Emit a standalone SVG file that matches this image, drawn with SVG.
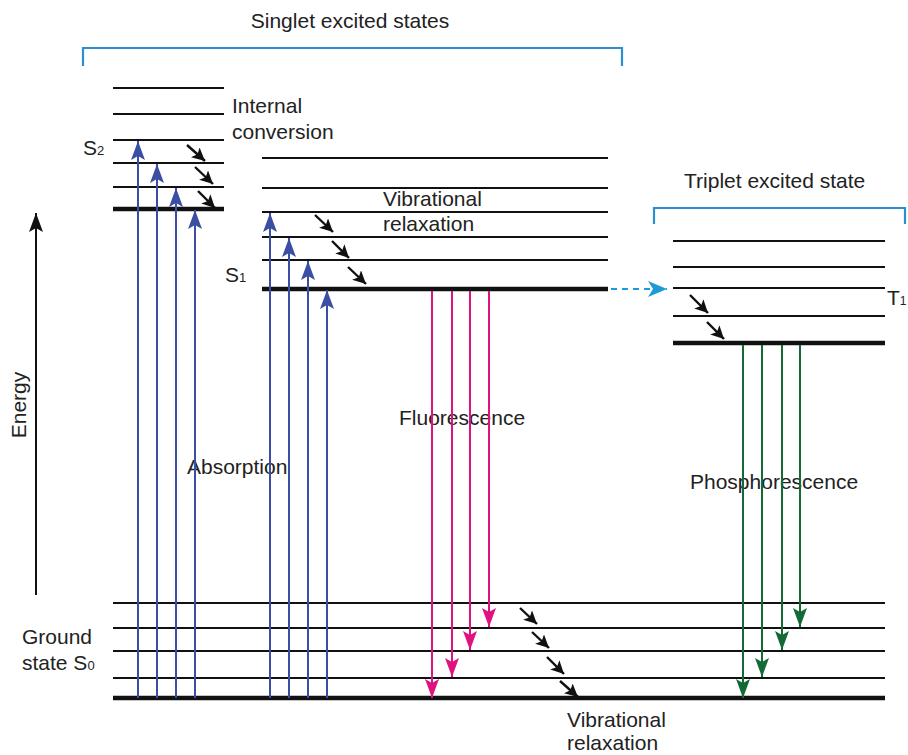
<svg xmlns="http://www.w3.org/2000/svg" width="908" height="755" viewBox="0 0 908 755">
<defs>
<marker id="hb" markerUnits="userSpaceOnUse" markerWidth="20" markerHeight="14" viewBox="0 0 20 14" refX="19" refY="7" orient="auto"><path d="M0,0 L19,7 L0,14 L4,7 Z" fill="#3a4fa3"/></marker>
<marker id="hp" markerUnits="userSpaceOnUse" markerWidth="20" markerHeight="14" viewBox="0 0 20 14" refX="19" refY="7" orient="auto"><path d="M0,0 L19,7 L0,14 L4,7 Z" fill="#e0127f"/></marker>
<marker id="hg" markerUnits="userSpaceOnUse" markerWidth="20" markerHeight="14" viewBox="0 0 20 14" refX="19" refY="7" orient="auto"><path d="M0,0 L19,7 L0,14 L4,7 Z" fill="#136a35"/></marker>
<marker id="hk" markerUnits="userSpaceOnUse" markerWidth="14" markerHeight="13" viewBox="0 0 14 13" refX="13" refY="6.5" orient="auto"><path d="M0,0 L13,6.5 L0,13 L3,6.5 Z" fill="#111"/></marker>
<marker id="hc" markerUnits="userSpaceOnUse" markerWidth="20" markerHeight="16" viewBox="0 0 20 16" refX="19" refY="8" orient="auto"><path d="M0,0 L19,8 L0,16 L5,8 Z" fill="#1e9ad8"/></marker>
<marker id="he" markerUnits="userSpaceOnUse" markerWidth="20" markerHeight="14" viewBox="0 0 20 14" refX="19" refY="7" orient="auto"><path d="M0,0 L19,7 L0,14 L4,7 Z" fill="#111"/></marker>
</defs>
<style>
.t{font-family:"Liberation Sans",Arial,sans-serif;font-size:21px;fill:#222}
.lv{stroke:#111;stroke-width:2}
.lt{stroke:#111;stroke-width:4.5}
.br{fill:none;stroke:#2a8fd0;stroke-width:2.2}
.ab{stroke:#3a4fa3;stroke-width:2;marker-end:url(#hb)}
.fl{stroke:#e0127f;stroke-width:2;marker-end:url(#hp)}
.ph{stroke:#136a35;stroke-width:2;marker-end:url(#hg)}
.vr{stroke:#111;stroke-width:2.4;marker-end:url(#hk)}
</style>
<rect width="908" height="755" fill="#fff"/>

<g id="singlet-bracket">
<path class="br" d="M83,66 V48 H622 V66"/>
<text class="t" x="350" y="28" text-anchor="middle">Singlet excited states</text>
</g>

<g id="S2">
<line class="lv" x1="113" y1="88" x2="224" y2="88"/>
<line class="lv" x1="113" y1="114" x2="224" y2="114"/>
<line class="lv" x1="113" y1="140" x2="224" y2="140"/>
<line class="lv" x1="113" y1="163" x2="224" y2="163"/>
<line class="lv" x1="113" y1="187" x2="224" y2="187"/>
<line class="lt" x1="113" y1="209" x2="224" y2="209"/>
<text class="t" x="83" y="155">S<tspan font-size="13">2</tspan></text>
</g>

<g id="internal-conversion-label">
<text class="t" x="232" y="113">Internal</text>
<text class="t" x="232" y="139">conversion</text>
</g>

<g id="S1">
<line class="lv" x1="262" y1="158" x2="608" y2="158"/>
<line class="lv" x1="262" y1="188" x2="608" y2="188"/>
<line class="lv" x1="262" y1="212" x2="608" y2="212"/>
<line class="lv" x1="262" y1="237" x2="608" y2="237"/>
<line class="lv" x1="262" y1="260" x2="608" y2="260"/>
<line class="lt" x1="262" y1="289" x2="608" y2="289"/>
<text class="t" x="225" y="282">S<tspan font-size="13">1</tspan></text>
<text class="t" x="383" y="206">Vibrational</text>
<text class="t" x="383" y="231">relaxation</text>
</g>

<g id="triplet">
<path class="br" d="M654,224 V208 H905 V224"/>
<text class="t" x="684" y="188">Triplet excited state</text>
<line class="lv" x1="673" y1="241" x2="885" y2="241"/>
<line class="lv" x1="673" y1="267" x2="885" y2="267"/>
<line class="lv" x1="673" y1="288" x2="885" y2="288"/>
<line class="lv" x1="673" y1="316" x2="885" y2="316"/>
<line class="lt" x1="673" y1="343" x2="885" y2="343"/>
<text class="t" x="887" y="305">T<tspan font-size="12">1</tspan></text>
</g>

<g id="ground">
<line class="lv" x1="113" y1="603" x2="885" y2="603"/>
<line class="lv" x1="113" y1="628" x2="885" y2="628"/>
<line class="lv" x1="113" y1="651" x2="885" y2="651"/>
<line class="lv" x1="113" y1="678" x2="885" y2="678"/>
<line class="lt" x1="113" y1="698" x2="885" y2="698"/>
<text class="t" x="22" y="644">Ground</text>
<text class="t" x="22" y="670">state S<tspan font-size="13">0</tspan></text>
<text class="t" x="567" y="727">Vibrational</text>
<text class="t" x="567" y="750">relaxation</text>
</g>

<g id="energy-axis">
<line stroke="#111" stroke-width="2" x1="36" y1="595" x2="36" y2="213" marker-end="url(#he)"/>
<text class="t" transform="translate(26,405) rotate(-90)" text-anchor="middle">Energy</text>
</g>

<g id="labels">
<text class="t" x="187" y="474">Absorption</text>
<text class="t" x="399" y="425">Fluorescence</text>
<text class="t" x="690" y="489">Phosphorescence</text>
</g>

<g id="connectors">
<line class="ab" x1="138" y1="698" x2="138" y2="141"/>
<line class="ab" x1="157" y1="698" x2="157" y2="164"/>
<line class="ab" x1="176" y1="698" x2="176" y2="188"/>
<line class="ab" x1="195" y1="698" x2="195" y2="210"/>
<line class="ab" x1="270" y1="698" x2="270" y2="213"/>
<line class="ab" x1="289" y1="698" x2="289" y2="238"/>
<line class="ab" x1="308" y1="698" x2="308" y2="261"/>
<line class="ab" x1="327" y1="698" x2="327" y2="290"/>

<line class="fl" x1="432" y1="291" x2="432" y2="698"/>
<line class="fl" x1="452" y1="291" x2="452" y2="677"/>
<line class="fl" x1="470" y1="291" x2="470" y2="650"/>
<line class="fl" x1="489" y1="291" x2="489" y2="627"/>

<line class="ph" x1="743" y1="345" x2="743" y2="698"/>
<line class="ph" x1="762" y1="345" x2="762" y2="677"/>
<line class="ph" x1="782" y1="345" x2="782" y2="650"/>
<line class="ph" x1="800" y1="345" x2="800" y2="627"/>

<line stroke="#1e9ad8" stroke-width="2.2" stroke-dasharray="6,5" x1="611" y1="289" x2="667" y2="289" marker-end="url(#hc)"/>

<line class="vr" x1="187" y1="145" x2="205" y2="161"/>
<line class="vr" x1="195" y1="167" x2="213" y2="184"/>
<line class="vr" x1="198" y1="191" x2="215" y2="208"/>
<line class="vr" x1="315" y1="215" x2="333" y2="232"/>
<line class="vr" x1="332" y1="241" x2="349" y2="258"/>
<line class="vr" x1="348" y1="267" x2="366" y2="284"/>
<line class="vr" x1="690" y1="295" x2="708" y2="313"/>
<line class="vr" x1="707" y1="322" x2="724" y2="339"/>
<line class="vr" x1="520" y1="608" x2="537" y2="624"/>
<line class="vr" x1="532" y1="632" x2="549" y2="648"/>
<line class="vr" x1="547" y1="657" x2="564" y2="674"/>
<line class="vr" x1="560" y1="681" x2="578" y2="697"/>
</g>
</svg>
